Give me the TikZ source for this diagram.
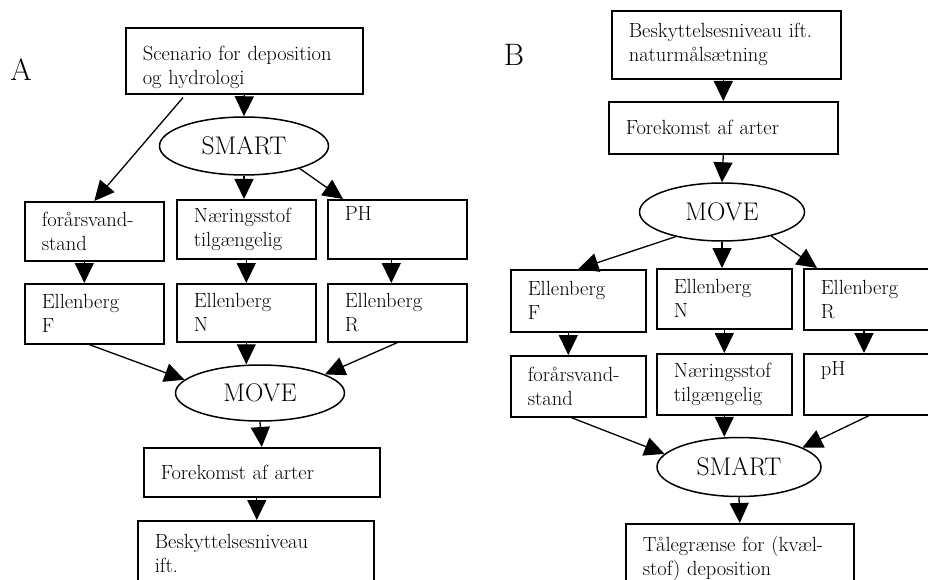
\documentclass[tikz,border=0pt]{standalone}
\usepackage{fontspec}
\usetikzlibrary{arrows.meta, shapes.geometric}

\begin{document}
\begin{tikzpicture}[
  x=1pt, y=-1pt,
  >={Triangle[length=20pt, width=19pt]},
  flow/.style={->, line width=1.3pt},
  box/.style={draw, line width=1.6pt, anchor=north west, align=left,
    inner xsep=17pt, inner ysep=0pt, font=\fontsize{20.5}{24}\selectfont},
  model/.style={draw, ellipse, line width=1.5pt, inner sep=0pt,
    font=\fontsize{25.5}{25.5}\selectfont},
  panel/.style={font=\fontsize{31}{31}\selectfont},
]

\useasboundingbox (0,0) rectangle (928,580);
\clip (0,0) rectangle (928,580);

% ══════════════════════════════════════════════════════
% Panel A: scenario -> SMART -> MOVE -> protection level
% ══════════════════════════════════════════════════════
\node[panel] (labA) at (21,70) {A};

\node[box, text width=203pt, minimum height=66pt] (scenA) at (125,27)
  {\rule{0pt}{28pt}Scenario for deposition\\og hydrologi};
\node[model, minimum width=169pt, minimum height=58pt] (smartA) at (244,146) {SMART};

% ── soil conditions ─────────────────────────────────
\node[box, text width=105pt, minimum height=59pt] (forA) at (24,201)
  {forårsvand-\\stand};
\node[box, text width=105pt, minimum height=59pt] (naerA) at (176,199)
  {Næringsstof\\tilgængelig};
\node[box, text width=105pt, minimum height=59pt] (phA) at (327,199)
  {PH\\\strut};

% ── Ellenberg indicator values ──────────────────────
\node[box, text width=105pt, minimum height=60pt] (ellFA) at (24,283)
  {Ellenberg\\F};
\node[box, text width=105pt, minimum height=58pt] (ellNA) at (176,283)
  {Ellenberg\\N};
\node[box, text width=105pt, minimum height=58pt] (ellRA) at (327,283)
  {Ellenberg\\R};

\node[model, minimum width=169pt, minimum height=56pt] (moveA) at (260,393) {MOVE};
\node[box, text width=202pt, minimum height=49pt] (forekA) at (143,447)
  {Forekomst af arter};
\node[box, text width=202pt, minimum height=66pt] (beskA) at (137,520)
  {Beskyttelsesniveau\\ift.};

\draw[flow] (scenA.south) -- (smartA.north);
\draw[flow] ([xshift=58pt, yshift=-3pt]scenA.south west) -- (forA.north);
\draw[flow] (smartA.south) -- (smartA.south |- naerA.north);
\draw[flow] (smartA.-22) -- ([xshift=16pt]phA.north west);
\draw[flow] ([xshift=-10pt]forA.south) -- ([xshift=-10pt]ellFA.north);
\draw[flow] (naerA.south) -- (ellNA.north);
\draw[flow] ([xshift=-6pt]phA.south) -- ([xshift=-6pt]ellRA.north);
\draw[flow] ([xshift=-5pt]ellFA.south) -- (moveA.170);
\draw[flow] (ellNA.south) -- (ellNA.south |- moveA.north);
\draw[flow] (ellRA.south) -- (moveA.16);
\draw[flow] (moveA.south) -- (forekA.north);
\draw[flow] ([xshift=-5pt]forekA.south) -- ([xshift=-5pt]forekA.south |- beskA.north);

% ══════════════════════════════════════════════════════
% Panel B: protection level -> MOVE -> SMART -> critical load
% ══════════════════════════════════════════════════════
\node[panel] (labB) at (514,55) {B};

\node[box, text width=195pt, minimum height=68pt] (beskB) at (611,10)
  {Beskyttelsesniveau ift.\\naturmålsætning};
\node[box, text width=195pt, minimum height=52pt] (forekB) at (608,101)
  {Forekomst af arter};
\node[model, minimum width=165pt, minimum height=58pt] (moveB) at (722,212) {MOVE};

% ── Ellenberg indicator values ──────────────────────
\node[box, text width=101pt, minimum height=62pt] (ellFB) at (510,269)
  {Ellenberg\\F};
\node[box, text width=101pt, minimum height=60pt] (ellNB) at (656,268)
  {Ellenberg\\N};
\node[box, text width=126pt, minimum height=61pt] (ellRB) at (803,268)
  {Ellenberg\\R};

% ── soil conditions ─────────────────────────────────
\node[box, text width=101pt, minimum height=61pt] (forB) at (510,355)
  {forårsvand-\\stand};
\node[box, text width=101pt, minimum height=61pt] (naerB) at (656,353)
  {Næringsstof\\tilgængelig};
\node[box, text width=126pt, minimum height=61pt] (phB) at (803,353)
  {pH\\\strut};

\node[model, minimum width=164pt, minimum height=59pt] (smartB) at (739,467) {SMART};
\node[box, text width=194pt, minimum height=70pt] (taleB) at (625,523)
  {Tålegrænse for (kvæl-\\stof) deposition};

\draw[flow] (forekB.north |- beskB.south) -- (forekB.north);
\draw[flow] (forekB.south) -- (moveB.north);
\draw[flow] (moveB.208) -- (ellFB.north);
\draw[flow] (moveB.south) -- (moveB.south |- ellNB.north);
\draw[flow] (moveB.-26) -- ([xshift=14pt]ellRB.north west);
\draw[flow] ([xshift=-10pt]ellFB.south) -- ([xshift=-10pt]ellFB.south |- forB.north);
\draw[flow] (ellNB.south) -- (naerB.north);
\draw[flow] ([xshift=61pt]ellRB.south west) -- ([xshift=61pt]phB.north west);
\draw[flow] ([xshift=-7pt]forB.south) -- (smartB.170);
\draw[flow] (naerB.south) -- (naerB.south |- smartB.north);
\draw[flow] ([xshift=66pt]phB.south west) -- (smartB.17);
\draw[flow] (smartB.south) -- (taleB.north);

\end{tikzpicture}
\end{document}
